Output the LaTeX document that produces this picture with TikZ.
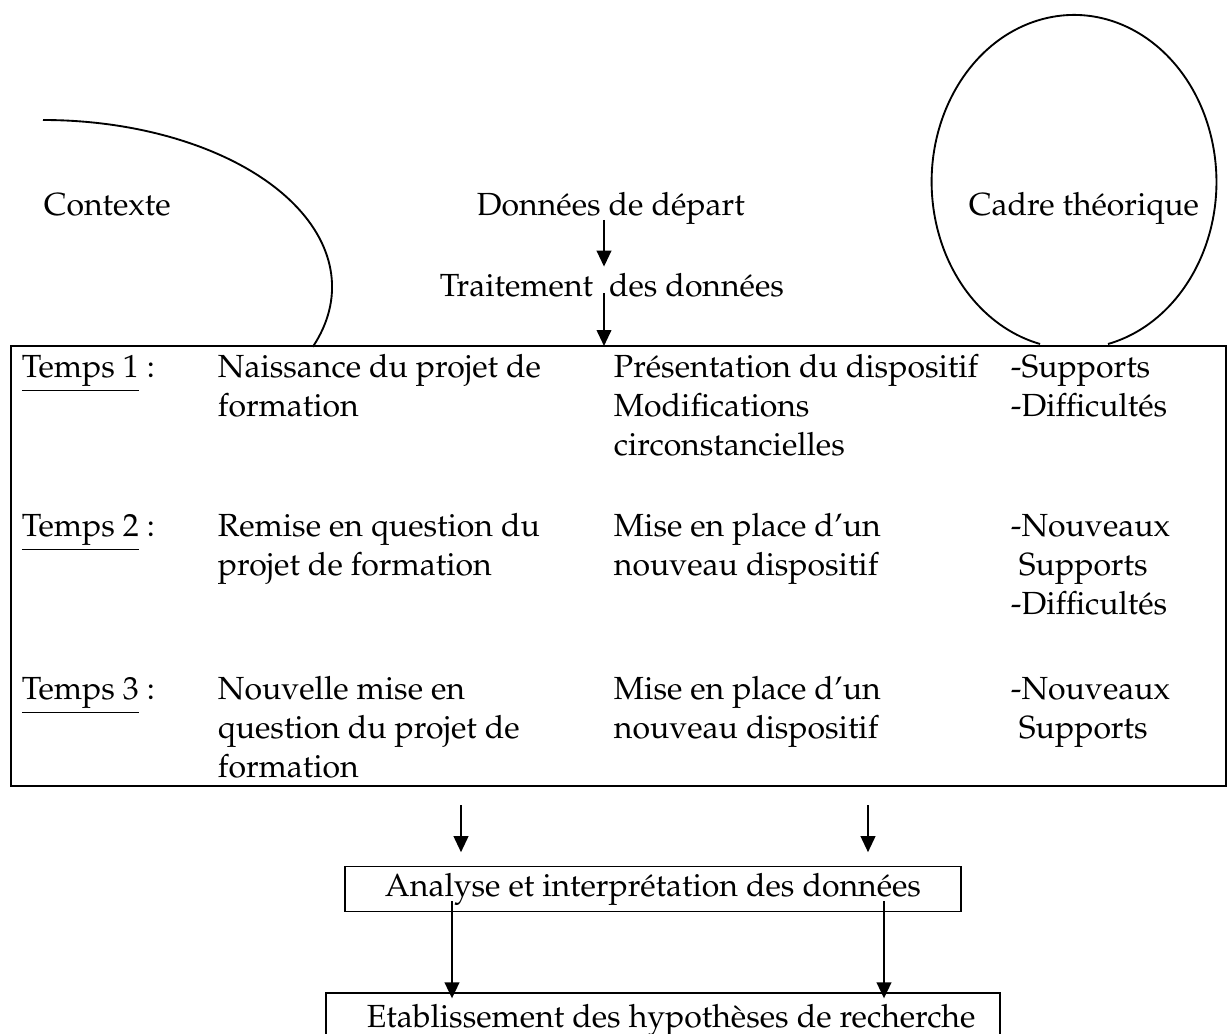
\documentclass[tikz,border=0pt]{standalone}
\usepackage[T1]{fontenc}
\usepackage{mathpazo}
\usetikzlibrary{arrows.meta, positioning}

% lignes d'une case, ligne de base = premiere ligne
\newcommand{\lignes}[1]{\vtop{\lineskiplimit=-\maxdimen\let\\\cr
  \halign{##\hfil\cr#1\crcr}}}

\tikzset{
  txt/.style={anchor=base west, inner sep=0pt,
    font=\fontsize{12}{14.8}\selectfont},
  fl/.style={-{Triangle[width=5.5pt, length=6pt]}},
  boite/.style={draw, inner sep=0pt, font=\fontsize{12}{14}\selectfont}
}

\begin{document}
\begin{tikzpicture}[x=0.375pt, y=-0.375pt, line width=0.7pt]
\useasboundingbox (0,0) rectangle (1228,1034);

% en-tete
\node[txt] (contexte) at (43,216) {Contexte};
\node[txt] (depart) at (476,216) {Données de départ};
\node[txt] (cadre) at (968,216) {Cadre théorique};
\node[txt] (traitement) at (439,296) {Traitement\ \ des données};

\draw (43,120) arc[start angle=90, end angle=-21, x radius=108.4pt, y radius=62.6pt];
\draw (1108,344) arc[start angle=-76.2, end angle=256.2, x radius=53.4pt, y radius=62.6pt];

\coordinate (f1) at (604,220);
\coordinate (f2) at (604,293);
\draw[fl] (f1) -- ([yshift=2pt]traitement.north -| f1);

% tableau
\coordinate (tab-nw) at (11,346);
\coordinate (tab-se) at (1226,786);
\draw[line width=0.9pt] (tab-nw) rectangle (tab-se);
\draw[fl] (f2) -- (f2 |- tab-nw);

\node[txt] (t1) at (21,377) {\underline{Temps 1} :};
\node[txt] (n1) at (217,377) {\lignes{Naissance du projet de\\formation}};
\node[txt] (p1) at (613,377) {\lignes{Présentation du dispositif\\Modifications\\circonstancielles}};
\node[txt] (s1) at (1010,377) {\lignes{-Supports\\-Difficultés}};

\node[txt] (t2) at (21,536) {\underline{Temps 2} :};
\node[txt] (n2) at (217,536) {\lignes{Remise en question du\\projet de formation}};
\node[txt] (p2) at (613,536) {\lignes{Mise en place d'un\\nouveau dispositif}};
\node[txt] (s2) at (1010,536) {\lignes{-Nouveaux\\\ Supports\\-Difficultés}};

\node[txt] (t3) at (21,699) {\underline{Temps 3} :};
\node[txt] (n3) at (217,699) {\lignes{Nouvelle mise en\\question du projet de\\formation}};
\node[txt] (p3) at (613,699) {\lignes{Mise en place d'un\\nouveau dispositif}};
\node[txt] (s3) at (1010,699) {\lignes{-Nouveaux\\\ Supports}};

% analyse
\node[boite, minimum width=231pt, minimum height=16.9pt] (analyse) at (653,889)
  {Analyse et interprétation des données};
\node[txt] (hypo) at (366,1027) {Etablissement des hypothèses de recherche};
\coordinate (hypo-nw) at (326,993);
\coordinate (hypo-ne) at (1000,993);
\draw (hypo-nw) ++(0,80) -- (hypo-nw) -- (hypo-ne) -- ++(0,80);

\coordinate (fg) at (461,805);
\coordinate (fd) at (868,805);
\draw[fl] (fg) -- ([yshift=5pt]analyse.north -| fg);
\draw[fl] (fd) -- ([yshift=5pt]analyse.north -| fd);

\coordinate (hg) at (452,901);
\coordinate (hd) at (884,901);
\draw[fl] (hg) -- ([yshift=-2pt]hypo-nw -| hg);
\draw[fl] (hd) -- ([yshift=-2pt]hypo-nw -| hd);
\end{tikzpicture}
\end{document}
